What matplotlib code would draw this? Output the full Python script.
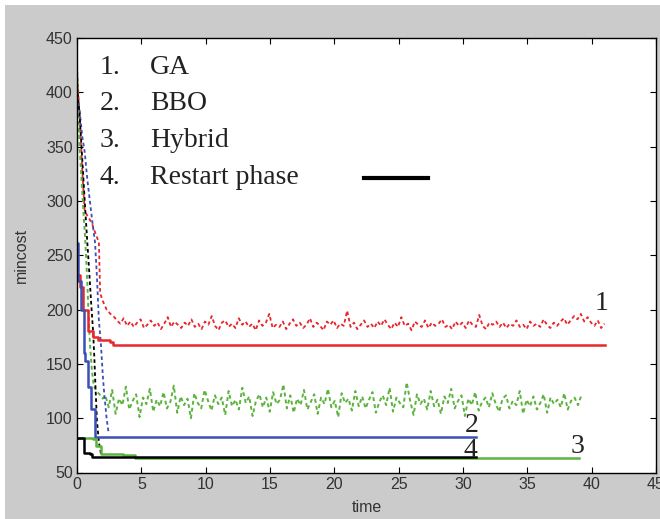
import matplotlib

matplotlib.use('Agg')

import numpy as np
import matplotlib.pyplot as plt
from matplotlib.patches import Rectangle

# best-so-far cost (solid lines), step-like
ga_min_t = [0, 0.27, 0.47, 0.86, 1.25, 1.64, 2.55, 2.8, 41]
ga_min = [232, 221, 200, 180, 175, 172, 170, 167, 167]
bbo_min_t = [0, 0.05, 0.3, 0.55, 0.6, 0.86, 1.12, 1.38, 31]
bbo_min = [261, 226, 200, 160, 153, 129, 108, 83, 83]
hyb_min_t = [0, 0.34, 1.25, 1.5, 1.9, 3.6, 4.5, 39]
hyb_min = [82, 82, 81, 74, 67, 66, 63, 63]
rst_min_t = [0, 0.42, 0.55, 1.0, 1.2, 31]
rst_min = [82, 82, 68, 67, 64, 64]

# average cost (dotted lines), transient part
ga_avg_t = [0, 0.2, 0.4, 0.6, 0.9, 1.2, 1.5, 1.7, 1.8, 2.0, 2.3, 2.6, 2.9]
ga_avg = [420, 380, 330, 290, 285, 278, 268, 262, 215, 208, 200, 196, 193]
bbo_avg_t = [0, 0.2, 0.4, 0.6, 0.8, 1.0, 1.2, 1.4, 1.55, 1.7, 1.85, 2.0, 2.1, 2.3, 2.45]
bbo_avg = [395, 384, 360, 345, 320, 300, 280, 262, 230, 190, 170, 140, 125, 100, 87]
rst_avg_t = [0, 0.2, 0.35, 0.5, 0.65, 0.8, 0.95, 1.1, 1.25, 1.35, 1.45, 1.55, 1.7, 1.85, 2.0]
rst_avg = [405, 380, 350, 320, 290, 262, 235, 206, 180, 155, 125, 98, 78, 68, 66]
hyb_avg_t = [0, 0.1, 0.2, 0.35, 0.5, 0.65, 0.8, 0.9, 1.0, 1.15, 1.3, 1.5, 1.75, 2.0]
hyb_avg = [425, 390, 350, 320, 290, 262, 225, 195, 170, 145, 130, 125, 122, 118]

# average cost after convergence (noisy part)
ga_noise = [190, 187, 192, 185, 189, 184, 188, 191, 183, 186, 190, 185, 188, 182, 187, 193, 184, 189, 186,
            183, 188, 185, 191, 184, 187, 182, 189, 186, 194, 185, 181, 188, 190, 184, 187, 183, 192, 186,
            189, 184, 187, 181, 190, 185, 188, 196, 183, 186, 184, 189, 182, 187, 191, 185, 188, 183, 186,
            192, 184, 188, 185, 181, 189, 186, 190, 183, 187, 185, 199, 184, 188, 182, 186, 190, 184, 187,
            183, 189, 185, 191, 186, 182, 188, 184, 193, 185, 187, 181, 189, 186, 184, 190, 183, 188, 185,
            187, 191, 184, 186, 182, 189, 185, 188, 183, 190, 186, 184, 195, 185, 182, 188, 186, 189, 184,
            188, 183, 187, 185, 190, 184, 186, 182, 189, 185, 187, 184, 191, 186, 183, 188, 185, 189, 192,
            186, 190, 194, 191, 196, 189, 193, 188, 185, 190, 183, 187]
hyb_noise = [121, 110, 126, 104, 118, 112, 129, 108, 116, 122, 101, 119, 113, 127, 106, 117, 111, 124, 109,
             115, 130, 105, 120, 112, 118, 100, 123, 114, 109, 126, 116, 107, 121, 113, 119, 103, 125, 111,
             117, 108, 128, 114, 120, 102, 116, 122, 110, 119, 106, 124, 113, 117, 131, 109, 121, 105, 118,
             112, 126, 108, 115, 122, 104, 119, 113, 127, 110, 116, 101, 123, 114, 118, 107, 125, 111, 120,
             109, 117, 124, 105, 115, 121, 112, 128, 106, 119, 114, 110, 133, 116, 103, 122, 113, 118, 108,
             125, 111, 117, 104, 120, 114, 127, 109, 116, 121, 102, 118, 112, 124, 107, 115, 119, 110, 123,
             113, 106, 118, 121, 109, 116, 112, 125, 104, 117, 111, 120, 108, 114, 122, 105, 119, 113, 117,
             110, 123, 108, 116, 119, 112, 121]
ga_noise_t = np.linspace(3.1, 41.0, len(ga_noise))
hyb_noise_t = np.linspace(2.2, 39.2, len(hyb_noise))

legend_items = ["1.", "2.", "3.", "4."]
legend_names = ["GA", "BBO", "Hybrid", "Restart phase"]
curve_tags = ["1", "2", "3", "4"]

RED = "#e8262b"
BLUE = "#3b4fb5"
GREEN = "#5cb43e"
DOTS = (0, (2, 1.6))

fig = plt.figure(figsize=(6.6, 5.19), dpi=100, facecolor="#cbcbcb")
# thin white margin on the left and top like the scanned figure
fig.patches.append(Rectangle((0, 0), 5 / 660, 1, transform=fig.transFigure,
                             facecolor="white", edgecolor="none"))
fig.patches.append(Rectangle((0, 514 / 519), 1, 5 / 519, transform=fig.transFigure,
                             facecolor="white", edgecolor="none"))
ax = fig.add_axes([77 / 660, 46.5 / 519, 579 / 660, 434.5 / 519])
ax.set_facecolor("white")

# dotted average curves
ax.plot(np.concatenate([ga_avg_t, ga_noise_t]), np.concatenate([ga_avg, ga_noise]),
        ls=DOTS, lw=1.3, color=RED)
ax.plot(np.concatenate([hyb_avg_t, hyb_noise_t]), np.concatenate([hyb_avg, hyb_noise]),
        ls=DOTS, lw=1.4, color=GREEN)
ax.plot(bbo_avg_t, bbo_avg, ls=DOTS, lw=1.3, color=BLUE)
ax.plot(rst_avg_t, rst_avg, ls=DOTS, lw=1.3, color="black")

# best cost curves
ax.step(ga_min_t, ga_min, where="post", lw=1.8, color=RED)
ax.step(bbo_min_t, bbo_min, where="post", lw=1.8, color=BLUE)
ax.step(hyb_min_t, hyb_min, where="post", lw=1.8, color=GREEN)
ax.step(rst_min_t, rst_min, where="post", lw=1.8, color="black")

ax.set_xlim(0, 45)
ax.set_ylim(50, 450)
ax.set_xticks(range(0, 46, 5))
ax.set_yticks(range(50, 451, 50))
ax.tick_params(direction="in", top=True, right=True, length=4, labelsize=11.5,
               labelcolor="#333333", pad=3)
for tl in ax.get_xticklabels() + ax.get_yticklabels():
    tl.set_family("Liberation Sans")
for s in ax.spines.values():
    s.set_linewidth(1.0)
ax.set_xlabel("time", fontsize=11.5, family="Liberation Sans", color="#333333", labelpad=6)
ax.set_ylabel("mincost", fontsize=11.5, family="Liberation Sans", color="#333333", labelpad=12)

serif = dict(family="Liberation Serif", fontsize=20, color="#222222")
for i, (num, name) in enumerate(zip(legend_items, legend_names)):
    yb = 417 - i * 33.7
    ax.text(1.75, yb, num, ha="left", va="baseline", **serif)
    ax.text(5.7, yb, name, ha="left", va="baseline", **serif)
ax.plot([22.3, 27.3], [321, 321], color="black", lw=3)

tag_pos = [(40.8, 199.5), (30.7, 87), (38.9, 68), (30.6, 64.5)]
for tag, (tx, ty) in zip(curve_tags, tag_pos):
    ax.text(tx, ty, tag, ha="center", va="baseline", **serif)

plt.savefig("out.png", dpi=100, facecolor=fig.get_facecolor())
